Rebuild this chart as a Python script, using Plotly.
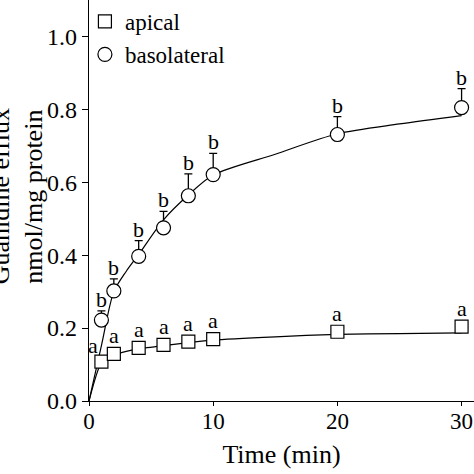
import plotly.graph_objects as go

# ---- data ----
time_min = [1, 2, 4, 6, 8, 10, 20, 30]
basolateral = [0.222, 0.302, 0.397, 0.475, 0.563, 0.621, 0.731, 0.805]
basolateral_err = [0.025, 0.033, 0.043, 0.045, 0.060, 0.058, 0.049, 0.052]
apical = [0.108, 0.129, 0.146, 0.154, 0.163, 0.170, 0.190, 0.204]

fit_time = [0, 1, 2, 3, 4, 6, 8, 10, 15, 20, 25, 30]
basolateral_fit = [0, 0.152, 0.300, 0.356, 0.402, 0.497, 0.565, 0.620, 0.677, 0.733, 0.760, 0.783]
apical_fit = [0, 0.105, 0.125, 0.136, 0.143, 0.152, 0.160, 0.167, 0.176, 0.183, 0.185, 0.187]

apical_letters = ["a"] * 8
basolateral_letters = ["b"] * 8

x_ticks = [0, 10, 20, 30]
y_ticks = [0.0, 0.2, 0.4, 0.6, 0.8, 1.0]

FONT = "Liberation Serif"

fig = go.Figure()

# fitted curves
fig.add_trace(go.Scatter(x=fit_time, y=basolateral_fit, mode="lines",
                         line=dict(color="black", width=1.2, shape="spline", smoothing=0.8),
                         showlegend=False, hoverinfo="skip", cliponaxis=False))
fig.add_trace(go.Scatter(x=fit_time, y=apical_fit, mode="lines",
                         line=dict(color="black", width=1.2, shape="spline", smoothing=0.6),
                         showlegend=False, hoverinfo="skip", cliponaxis=False))

# data points
fig.add_trace(go.Scatter(x=time_min, y=apical, mode="markers", name="apical",
                         cliponaxis=False,
                         marker=dict(symbol="square", size=13, color="white",
                                     line=dict(color="black", width=1.2))))
fig.add_trace(go.Scatter(x=time_min, y=basolateral, mode="markers", name="basolateral",
                         cliponaxis=False,
                         marker=dict(symbol="circle", size=14, color="white",
                                     line=dict(color="black", width=1.2)),
                         error_y=dict(type="data", symmetric=False, array=basolateral_err,
                                      arrayminus=[0] * len(basolateral_err),
                                      color="black", thickness=1.3, width=4)))

annotations = []
for i, (t, v, e, lab) in enumerate(zip(time_min, basolateral, basolateral_err, basolateral_letters)):
    annotations.append(dict(x=t, y=v + e, xref="x", yref="y", text=lab, showarrow=False,
                            yanchor="bottom", yshift=-3,
                            font=dict(family=FONT, size=22, color="black")))
for i, (t, v, lab) in enumerate(zip(time_min, apical, apical_letters)):
    annotations.append(dict(x=t, y=v, xref="x", yref="y", text=lab, showarrow=False,
                            yanchor="bottom", yshift=2 if i == 0 else 4,
                            xshift=-8 if i == 0 else 0,
                            font=dict(family=FONT, size=22, color="black")))

# y-axis title (cropped at the left edge in the reference)
annotations.append(dict(x=-0.229, y=0.51, xref="paper", yref="paper",
                        text="Guanidine efflux", textangle=-90, showarrow=False,
                        xanchor="center", yanchor="middle",
                        font=dict(family=FONT, size=26, color="black")))
annotations.append(dict(x=-0.145, y=0.51, xref="paper", yref="paper",
                        text="nmol/mg protein", textangle=-90, showarrow=False,
                        xanchor="center", yanchor="middle",
                        font=dict(family=FONT, size=26, color="black")))

fig.update_layout(
    width=474, height=474,
    margin=dict(l=89, r=0, t=0, b=73, pad=0),
    paper_bgcolor="white", plot_bgcolor="white",
    font=dict(family=FONT, size=24, color="black"),
    showlegend=True,
    legend=dict(x=-0.0106, y=1.0, xanchor="left", yanchor="top",
                bgcolor="rgba(0,0,0,0)", font=dict(family=FONT, size=23),
                itemwidth=30, tracegroupgap=0),
    annotations=annotations,
    xaxis=dict(range=[0, 31], tickvals=x_ticks, ticks="outside", ticklen=4,
               tickcolor="black", showline=True, linecolor="black", linewidth=1.2,
               showgrid=False, zeroline=False, tickfont=dict(family=FONT, size=23),
               ticklabelstandoff=-5,
               title=dict(text="Time (min)", font=dict(family=FONT, size=26), standoff=12)),
    yaxis=dict(range=[0, 1.10], tickvals=y_ticks, tickformat=".1f", ticks="outside",
               ticklen=6, tickcolor="black", showline=True, linecolor="black", linewidth=1.2,
               showgrid=False, zeroline=False, tickfont=dict(family=FONT, size=24)),
)

fig.write_html("out.html", config={"displayModeBar": False},
               post_script="document.body.style.margin='0px';")
